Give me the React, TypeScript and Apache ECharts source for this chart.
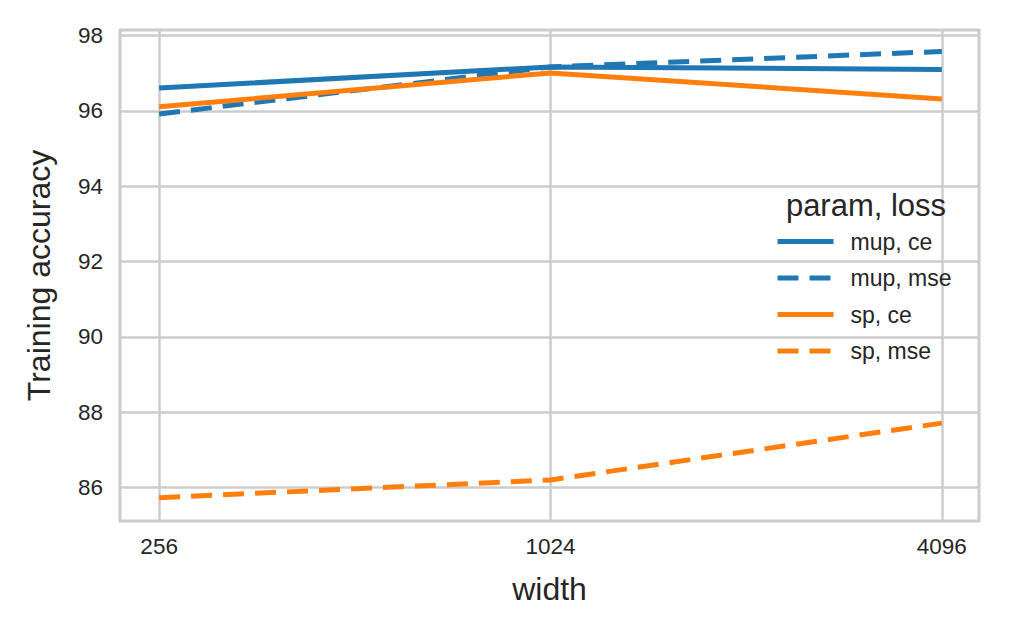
import React, { useEffect, useRef } from "react";
import * as echarts from "echarts";

const widths = [256, 1024, 4096];
const yTicks = [86, 88, 90, 92, 94, 96, 98];
const mupCe = [96.61, 97.17, 97.1];
const mupMse = [95.92, 97.17, 97.58];
const spCe = [96.11, 97.01, 96.32];
const spMse = [85.73, 86.2, 87.71];
const seriesNames = ["mup, ce", "mup, mse", "sp, ce", "sp, mse"];

const BLUE = "#1f77b4";
const ORANGE = "#ff7f0e";
const TEXT = "#262626";
const GRID = "#cccccc";
const FONT = "Liberation Sans, Arial, sans-serif";

export default function App() {
  const ref = useRef<HTMLDivElement>(null);
  useEffect(() => {
    if (!ref.current) return;
    const chart = echarts.init(ref.current, null, { renderer: "svg" });
    const toPts = (vals: number[]) => widths.map((w, i) => [Math.log2(w), vals[i]]);
    const mk = (name: string, vals: number[], color: string, dashed: boolean) => ({
      name,
      type: "line",
      data: toPts(vals),
      symbol: "none",
      lineStyle: { color, width: 5, type: dashed ? [21, 11] : "solid", cap: "butt" },
      itemStyle: { color },
      z: 5,
    });
    chart.setOption({
      animation: false,
      backgroundColor: "#ffffff",
      textStyle: { fontFamily: FONT },
      grid: {
        left: 120,
        top: 30,
        right: 30,
        bottom: 116,
        show: true,
        borderColor: GRID,
        borderWidth: 3,
        backgroundColor: "#ffffff",
      },
      xAxis: {
        type: "value",
        min: 7.8,
        max: 12.19,
        name: "width",
        nameLocation: "middle",
        nameGap: 52,
        nameTextStyle: { color: TEXT, fontSize: 32, fontFamily: FONT },
        axisLine: { show: false },
        axisTick: { show: false, customValues: widths.map((w) => Math.log2(w)) },
        axisLabel: {
          customValues: widths.map((w) => Math.log2(w)),
          formatter: (v: number) => String(Math.round(Math.pow(2, v))),
          color: TEXT,
          fontSize: 22.5,
          margin: 14,
          fontFamily: FONT,
        },
        splitLine: { show: true, lineStyle: { color: GRID, width: 2.5 } },
      },
      yAxis: {
        type: "value",
        min: 85.11,
        max: 98.15,
        name: "Training accuracy",
        nameLocation: "middle",
        nameGap: 65,
        nameTextStyle: { color: TEXT, fontSize: 32, fontFamily: FONT },
        axisLine: { show: false },
        axisTick: { show: false, customValues: yTicks },
        axisLabel: {
          customValues: yTicks,
          color: TEXT,
          fontSize: 22.5,
          margin: 17,
          fontFamily: FONT,
        },
        splitLine: { show: true, lineStyle: { color: GRID, width: 2.5 } },
      },
      legend: {
        data: seriesNames,
        orient: "vertical",
        left: 770,
        top: 225,
        itemWidth: 56,
        itemHeight: 14,
        itemGap: 13.5,
        itemStyle: { color: "transparent", borderColor: "transparent", borderWidth: 0, opacity: 0 },
        lineStyle: { width: 5 },
        textStyle: { color: TEXT, fontSize: 23, fontFamily: FONT, padding: [0, 0, 0, 12] },
      },
      graphic: [
        {
          type: "text",
          x: 866,
          y: 205,
          z: 100,
          style: {
            text: "param, loss",
            fill: TEXT,
            fontSize: 31,
            fontFamily: FONT,
            align: "center",
            verticalAlign: "middle",
          },
        },
      ],
      series: [
        mk(seriesNames[0], mupCe, BLUE, false),
        mk(seriesNames[1], mupMse, BLUE, true),
        mk(seriesNames[2], spCe, ORANGE, false),
        mk(seriesNames[3], spMse, ORANGE, true),
      ],
    });
    return () => chart.dispose();
  }, []);
  return (
    <div
      ref={ref}
      style={{ position: "fixed", left: 0, top: 0, width: 1009, height: 637, background: "#fff" }}
    />
  );
}
